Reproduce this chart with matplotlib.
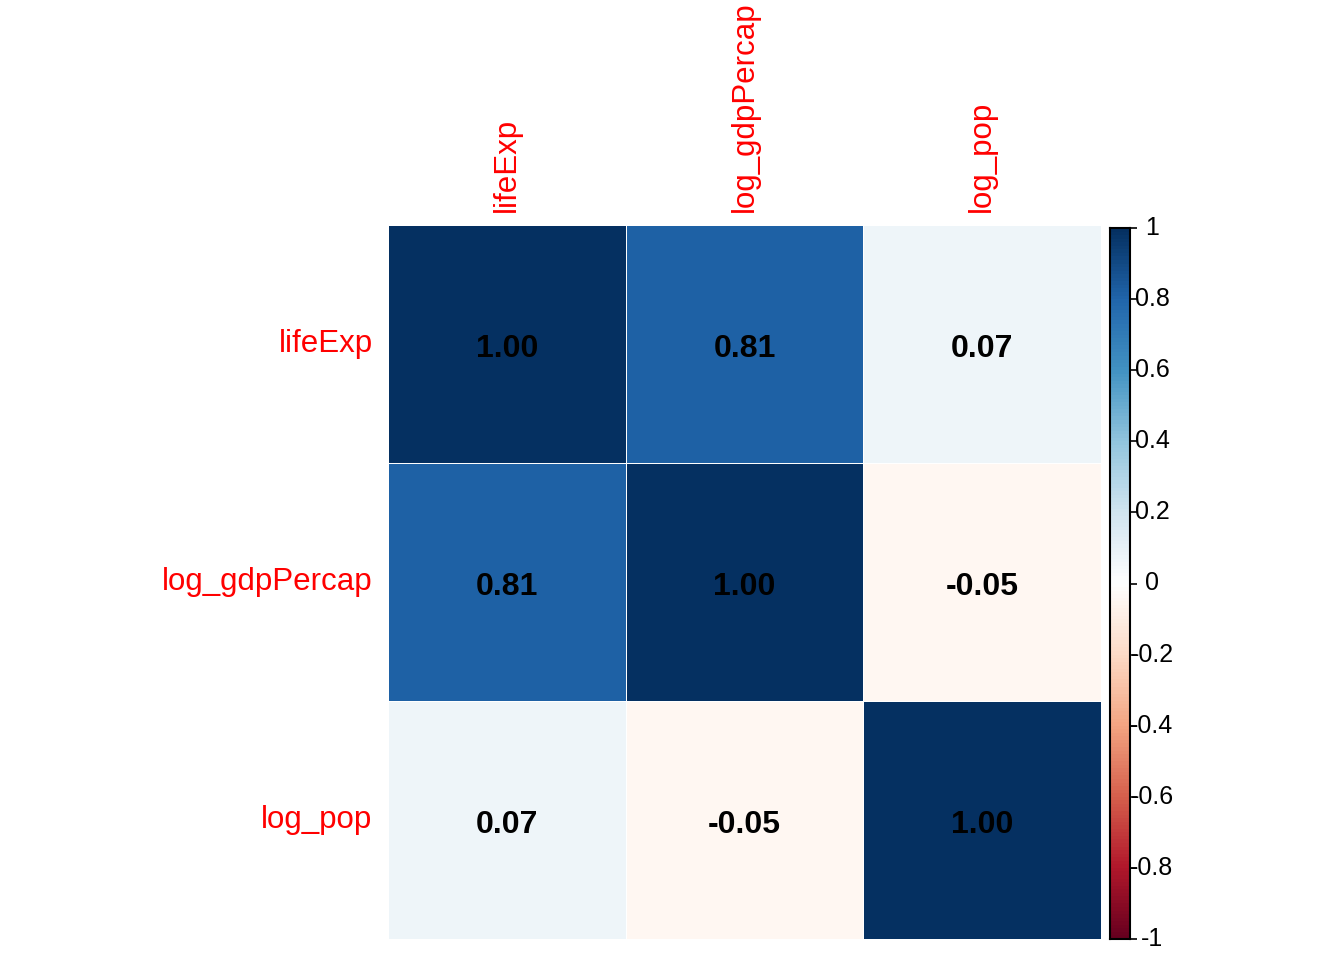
import numpy as np
import matplotlib
matplotlib.use("Agg")
import matplotlib.pyplot as plt
from matplotlib.colors import LinearSegmentedColormap

variables = ["lifeExp", "log_gdpPercap", "log_pop"]
corr = np.array([
    [1.00, 0.81, 0.07],
    [0.81, 1.00, -0.05],
    [0.07, -0.05, 1.00],
])
cbar_ticks = [-1, -0.8, -0.6, -0.4, -0.2, 0, 0.2, 0.4, 0.6, 0.8, 1]
cbar_labels = ["-1", "-0.8", "-0.6", "-0.4", "-0.2", "0", "0.2", "0.4", "0.6", "0.8", "1"]

palette = ["#67001F", "#B2182B", "#D6604D", "#F4A582", "#FDDBC7", "#FFFFFF",
           "#D1E5F0", "#92C5DE", "#4393C3", "#2166AC", "#053061"]
cmap = LinearSegmentedColormap.from_list("corrplot", palette, N=200)

plt.rcParams['font.family'] = ['Liberation Sans', 'DejaVu Sans']

W, H = 1344, 960
fig = plt.figure(figsize=(W / 100, H / 100), dpi=100)

def frac(x0, y0, x1, y1):
    return [x0 / W, 1 - y1 / H, (x1 - x0) / W, (y1 - y0) / H]

ax = fig.add_axes(frac(388, 225, 1101, 939))
n = len(variables)
ax.pcolormesh(np.arange(n + 1), np.arange(n + 1), corr, cmap=cmap, vmin=-1, vmax=1,
              edgecolor="white", linewidth=0.5)
ax.set_xlim(0, n)
ax.set_ylim(n, 0)
ax.set_axis_off()
for i in range(n):
    for j in range(n):
        ax.text(j + 0.5, i + 0.52, f"{corr[i, j]:.2f}", ha="center", va="center",
                fontsize=23, fontweight="bold", color="black")
for i, v in enumerate(variables):
    ax.text(-0.065, i + 0.5, v, ha="right", va="center", fontsize=22.5, color="red")
    ax.text(i + 0.5, -0.055, v, ha="center", va="bottom", rotation=90, fontsize=22.5,
            color="red")

cax = fig.add_axes(frac(1110, 228, 1130, 939))
grad = np.linspace(-1, 1, 200).reshape(-1, 1)
cax.imshow(grad, cmap=cmap, aspect="auto", origin="lower", extent=[0, 1, -1, 1])
cax.set_xlim(0, 1)
cax.set_ylim(-1, 1)
cax.set_xticks([])
cax.yaxis.tick_right()
cax.set_yticks(cbar_ticks)
cax.set_yticklabels([])
cax.tick_params(axis="y", length=5, width=1.2, color="black")
for t, lab in zip(cbar_ticks, cbar_labels):
    cax.text(2.1, t, lab, ha="center", va="center", fontsize=18,
             transform=cax.get_yaxis_transform() if False else cax.transData,
             clip_on=False)
for s in cax.spines.values():
    s.set_linewidth(1.5)
    s.set_color("black")

fig.savefig("out.png", dpi=100, facecolor="white")
